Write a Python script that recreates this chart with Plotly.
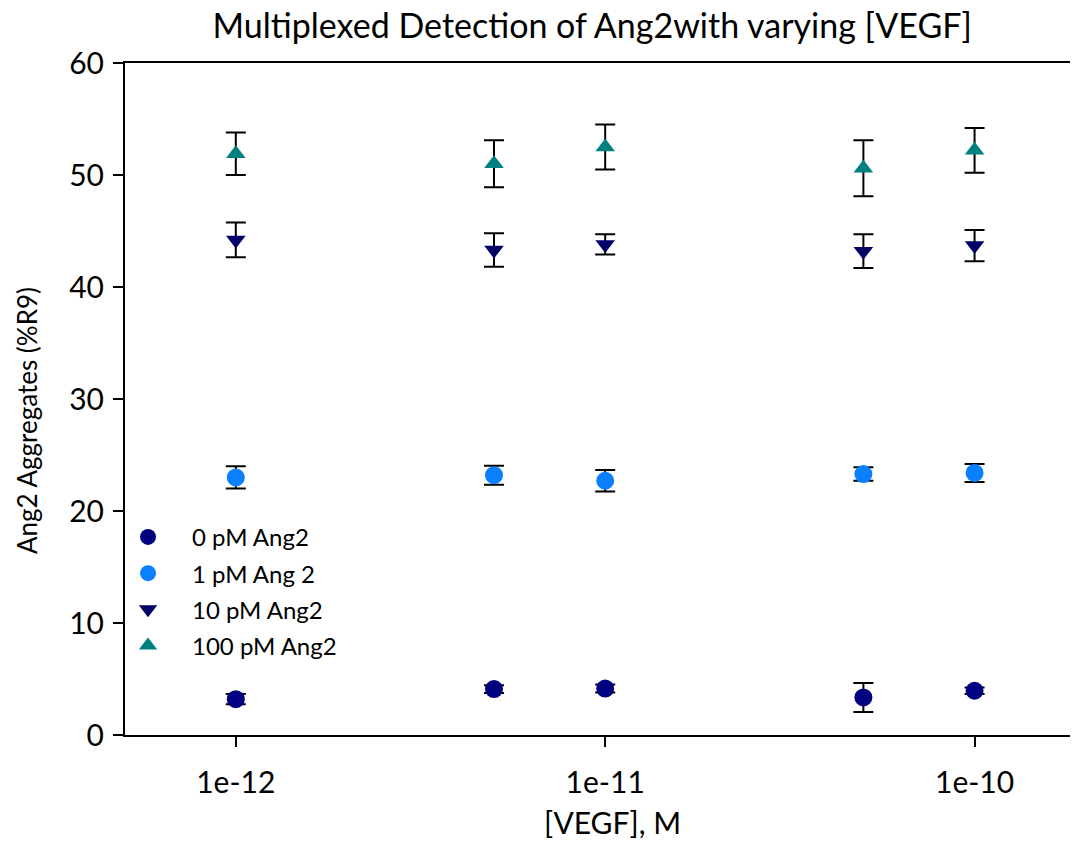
import plotly.graph_objects as go

# Data
vegf = [1e-12, 5e-12, 1e-11, 5e-11, 1e-10]
series_names = ["0 pM Ang2", "1 pM Ang 2", "10 pM Ang2", "100 pM Ang2"]
ang0 = [3.2, 4.1, 4.15, 3.35, 3.95]
ang0_err = [0.45, 0.35, 0.35, 1.3, 0.3]
ang1 = [23.0, 23.2, 22.7, 23.3, 23.4]
ang1_err = [1.0, 0.85, 0.95, 0.6, 0.8]
ang10 = [44.2, 43.3, 43.8, 43.2, 43.7]
ang10_err = [1.55, 1.5, 0.9, 1.5, 1.4]
ang100 = [51.9, 51.0, 52.5, 50.6, 52.2]
ang100_err = [1.9, 2.1, 2.0, 2.5, 2.0]
x_tickvals = [1e-12, 1e-11, 1e-10]
x_ticktext = ["1e-12", "1e-11", "1e-10"]
y_tickvals = [0, 10, 20, 30, 40, 50, 60]

values = [ang0, ang1, ang10, ang100]
errors = [ang0_err, ang1_err, ang10_err, ang100_err]
colors = ["#000080", "#0a80ff", "#000066", "#008080"]
symbols = ["circle", "circle", "triangle-down", "triangle-up"]
sizes = [18, 18, 17, 17]

FONT = "Lato"

fig = go.Figure()
for i, name in enumerate(series_names):
    fig.add_trace(go.Scatter(
        x=vegf, y=values[i], name=name, mode="markers",
        legendgroup=name,
        marker=dict(symbol=symbols[i], color=colors[i], size=sizes[i], line=dict(width=0)),
        error_y=dict(type="data", array=errors[i], visible=True,
                     color="black", thickness=2, width=10),
    ))

fig.update_layout(
    width=1070, height=833,
    paper_bgcolor="white", plot_bgcolor="white",
    margin=dict(l=117, r=0, t=55, b=106),
    font=dict(family=FONT, color="black"),
    title=dict(text="Multiplexed Detection of Ang2with varying [VEGF]",
               x=0.546, xanchor="center", y=0.978, yanchor="middle",
               font=dict(size=34, family=FONT, color="black")),
    showlegend=True,
    legend=dict(x=-0.022, y=0.3276, xanchor="left", yanchor="top",
                bgcolor="rgba(0,0,0,0)", font=dict(size=24, family=FONT),
                tracegroupgap=2, itemsizing="trace", itemwidth=78),
    xaxis=dict(type="log", range=[-12.3, -9.72],
               tickvals=x_tickvals, ticktext=x_ticktext,
               ticks="outside", ticklen=10, tickwidth=2, tickcolor="black",
               ticklabelstandoff=10,
               showline=True, linecolor="black", linewidth=2, mirror=True,
               showgrid=False, zeroline=False,
               tickfont=dict(size=30, family=FONT)),
    yaxis=dict(range=[0, 60], tickvals=y_tickvals,
               ticks="outside", ticklen=10, tickwidth=2, tickcolor="black",
               ticklabelstandoff=3,
               showline=True, linecolor="black", linewidth=2,
               showgrid=False, zeroline=False,
               tickfont=dict(size=30, family=FONT)),
    annotations=[
        dict(text="[VEGF], M", xref="paper", yref="paper",
             x=(612 - 125) / 953, y=-(822 - 735) / 672,
             xanchor="center", yanchor="middle", showarrow=False,
             font=dict(size=30, family=FONT, color="black")),
        dict(text="Ang2 Aggregates (%R9)", xref="paper", yref="paper",
             x=-(125 - 27) / 953, y=(735 - 421) / 672, textangle=-90,
             xanchor="center", yanchor="middle", showarrow=False,
             font=dict(size=26, family=FONT, color="black")),
    ],
)

fig.write_html("out.html")
